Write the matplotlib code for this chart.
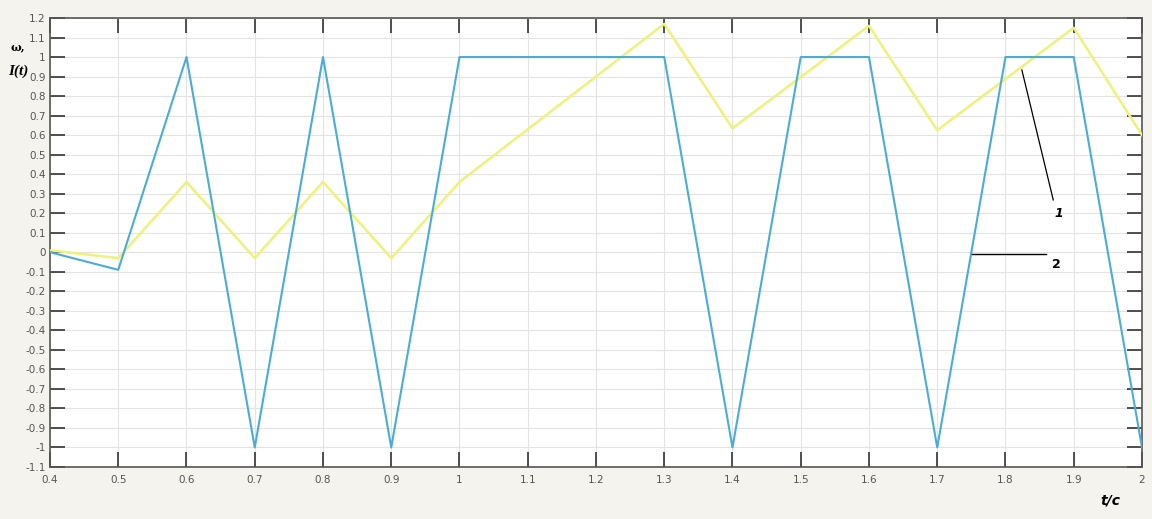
import matplotlib.pyplot as plt
import numpy as np

# time points and curve values
t_blue = [0.4, 0.5, 0.6, 0.7, 0.8, 0.9, 1.0, 1.3, 1.4, 1.5, 1.6, 1.7, 1.8, 1.9, 2.0]
i_blue = [0.0, -0.09, 1.0, -1.0, 1.0, -1.0, 1.0, 1.0, -1.0, 1.0, 1.0, -1.0, 1.0, 1.0, -1.0]

t_yellow = [0.4, 0.5, 0.6, 0.7, 0.8, 0.9, 1.0, 1.3, 1.4, 1.6, 1.7, 1.9, 2.0]
w_yellow = [0.01, -0.03, 0.36, -0.03, 0.36, -0.03, 0.36, 1.17, 0.635, 1.16, 0.625, 1.15, 0.6]

x_ticks = np.round(np.arange(0.4, 2.001, 0.1), 1)
y_ticks = np.round(np.arange(-1.1, 1.201, 0.1), 1)

fig = plt.figure(figsize=(11.52, 5.19), dpi=100)
fig.patch.set_facecolor("#f4f3ee")
ax = fig.add_axes([0.0434, 0.1002, 0.9479, 0.8651])
ax.set_facecolor("white")

ax.plot(t_yellow, w_yellow, color="#eef27a", lw=1.8, zorder=3)
ax.plot(t_blue, i_blue, color="#4badd6", lw=1.5, zorder=4)

ax.set_xlim(0.4, 2.0)
ax.set_ylim(-1.1, 1.2)

ax.set_xticks(x_ticks)
ax.set_xticklabels(["%g" % v for v in x_ticks])
ax.set_yticks(y_ticks)
ax.set_yticklabels(["%g" % v for v in y_ticks])
ax.tick_params(axis="both", direction="in", length=11, width=1.2, color="#333333",
               labelsize=7.5, labelcolor="#555555", top=True, right=True)
ax.tick_params(axis="x", pad=6)
ax.tick_params(axis="y", pad=3)
ax.grid(True, color="#e3e3e3", lw=0.8)
ax.set_axisbelow(True)
for s in ax.spines.values():
    s.set_color("#555555")
    s.set_linewidth(1.2)

# annotation leaders
ax.plot([1.824, 1.870], [0.934, 0.268], color="black", lw=0.9, zorder=5)
ax.text(1.872, 0.2, "1", fontsize=9, fontweight="bold", style="italic", ha="left", va="center")
ax.plot([1.751, 1.859], [-0.01, -0.01], color="black", lw=1.0, zorder=5)
ax.text(1.868, -0.065, "2", fontsize=9, fontweight="bold", ha="left", va="center")

# axis labels
fig.text(0.009, 1 - 47 / 519, "ω,", fontsize=8, family="DejaVu Serif", fontweight="bold",
         ha="left", va="center")
fig.text(0.007, 1 - 71 / 519, "I(t)", fontsize=11, family="Liberation Serif",
         fontweight="bold", style="italic", ha="left", va="center")
fig.text(1110 / 1152, 1 - 500 / 519, "t/c", fontsize=10, fontweight="bold", style="italic",
         ha="center", va="center")

plt.savefig("out.png", dpi=100, facecolor=fig.get_facecolor())
